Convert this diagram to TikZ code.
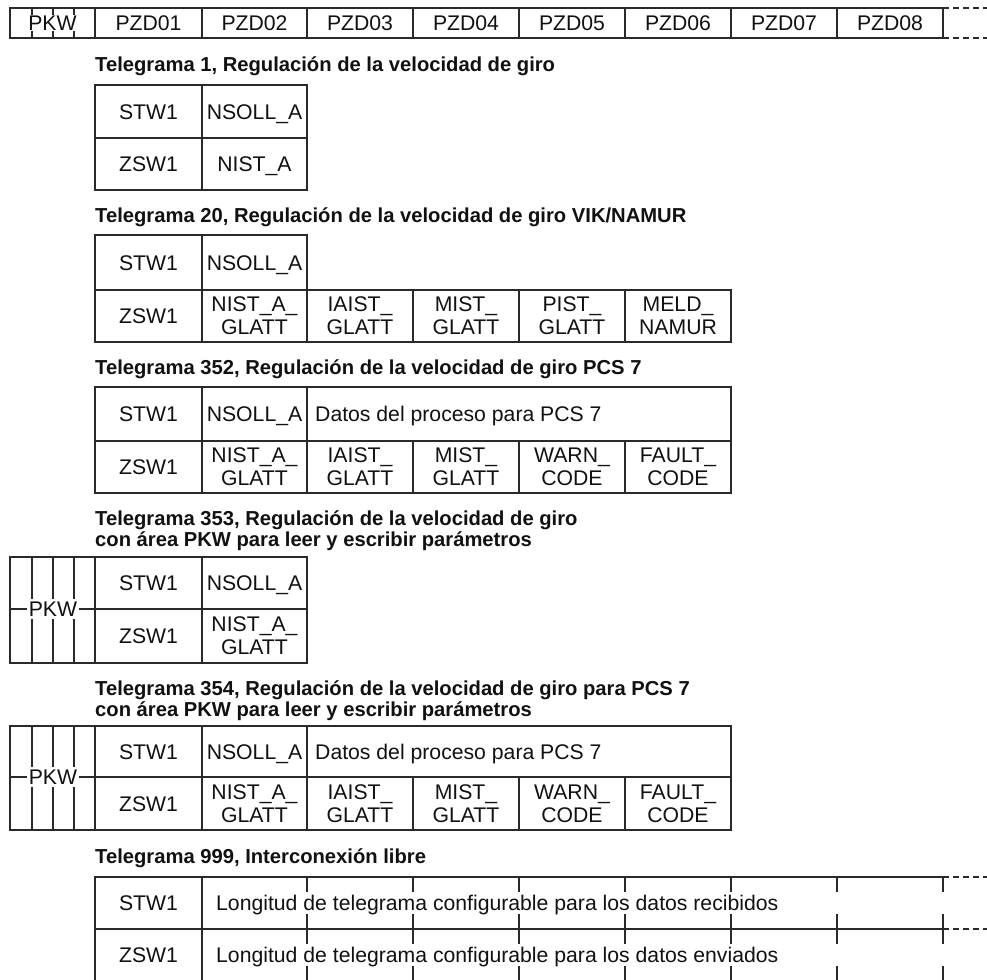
\documentclass[tikz,border=0pt]{standalone}
\usepackage{fontspec}
\setmainfont{Liberation Sans}
\definecolor{linec}{HTML}{2A2A2A}
\definecolor{txt}{HTML}{111111}
\newcommand\cellfont{\fontsize{21.2}{23}\selectfont}
\newcommand\titlefont{\fontsize{20.2}{21}\selectfont\bfseries}
\tikzset{
  cellbase/.style={draw=linec, line width=1.6pt, inner sep=0pt, outer sep=0pt, font=\cellfont, text=txt, align=center},
  cellone/.style={cellbase, text height=15.2pt, text depth=0pt},
  celltwo/.style={cellbase},
  titletxt/.style={anchor=base west, inner sep=0pt, font=\titlefont, text=txt},
  lbl/.style={anchor=west, inner sep=0pt, font=\cellfont, text=txt, text height=15.2pt, text depth=0pt},
  pkwlbl/.style={inner xsep=2pt, inner ysep=1pt, font=\cellfont, text=txt, text height=15.2pt, text depth=0pt},
  rule/.style={draw=linec, line width=1.6pt},
  dashrule/.style={draw=linec, line width=1.6pt, dash pattern=on 6pt off 4pt},
}
\newcommand\mycell[6]{\node[cellone, minimum width={(#4-#2)*1pt}, minimum height={(#5-#3)*1pt}] (#1) at ({(#2+#4)/2},{(#3+#5)/2}) {#6};}
\newcommand\mycellb[6]{\node[celltwo, minimum width={(#4-#2)*1pt}, minimum height={(#5-#3)*1pt}] (#1) at ({(#2+#4)/2},{(#3+#5)/2}) {#6};}
\begin{document}
\begin{tikzpicture}[x=1pt,y=-1pt]
\useasboundingbox (0,0) rectangle (987,979);
\fill[white] (0,0) rectangle (987,979);

% ---------- header row ----------
\mycell{h0}{10}{8}{95}{38}{PKW}
\mycell{h1}{95}{8}{202}{38}{PZD01}
\mycell{h2}{202}{8}{307}{38}{PZD02}
\mycell{h3}{307}{8}{413}{38}{PZD03}
\mycell{h4}{413}{8}{519}{38}{PZD04}
\mycell{h5}{519}{8}{625}{38}{PZD05}
\mycell{h6}{625}{8}{731}{38}{PZD06}
\mycell{h7}{731}{8}{837}{38}{PZD07}
\mycell{h8}{837}{8}{943}{38}{PZD08}
\foreach \x in {32,53,74} {
  \draw[rule] (\x,8) -- (\x,15);
  \draw[rule] (\x,31) -- (\x,38);
}
\coordinate (hEndT) at (987,8);
\coordinate (hEndB) at (987,38);
\draw[dashrule] (h8.north east) -- (hEndT);
\draw[dashrule] (h8.south east) -- (hEndB);

% ---------- Telegrama 1 ----------
\node[titletxt] (t1) at (95,72) {Telegrama 1, Regulación de la velocidad de giro};
\mycell{a1}{95}{85}{202}{138}{STW1}
\mycell{a2}{202}{85}{307}{138}{NSOLL\_A}
\mycell{a3}{95}{138}{202}{190}{ZSW1}
\mycell{a4}{202}{138}{307}{190}{NIST\_A}

% ---------- Telegrama 20 ----------
\node[titletxt] (t20) at (95,222) {Telegrama 20, Regulación de la velocidad de giro VIK/NAMUR};
\mycell{b1}{95}{235}{202}{290}{STW1}
\mycell{b2}{202}{235}{307}{290}{NSOLL\_A}
\mycell{b3}{95}{290}{202}{342}{ZSW1}
\mycellb{b4}{202}{290}{307}{342}{NIST\_A\_\\GLATT}
\mycellb{b5}{307}{290}{413}{342}{IAIST\_\\GLATT}
\mycellb{b6}{413}{290}{519}{342}{MIST\_\\GLATT}
\mycellb{b7}{519}{290}{625}{342}{PIST\_\\GLATT}
\mycellb{b8}{625}{290}{731}{342}{MELD\_\\NAMUR}

% ---------- Telegrama 352 ----------
\node[titletxt] (t352) at (95,374) {Telegrama 352, Regulación de la velocidad de giro PCS 7};
\mycell{c1}{95}{387}{202}{441}{STW1}
\mycell{c2}{202}{387}{307}{441}{NSOLL\_A}
\mycell{c3}{307}{387}{731}{441}{}
\node[lbl] (c3t) at (315,414) {Datos del proceso para PCS 7};
\mycell{c4}{95}{441}{202}{493}{ZSW1}
\mycellb{c5}{202}{441}{307}{493}{NIST\_A\_\\GLATT}
\mycellb{c6}{307}{441}{413}{493}{IAIST\_\\GLATT}
\mycellb{c7}{413}{441}{519}{493}{MIST\_\\GLATT}
\mycellb{c8}{519}{441}{625}{493}{WARN\_\\CODE}
\mycellb{c9}{625}{441}{731}{493}{FAULT\_\\CODE}

% ---------- Telegrama 353 ----------
\node[titletxt] (t353a) at (95,525) {Telegrama 353, Regulación de la velocidad de giro};
\node[titletxt] (t353b) at (95,546) {con área PKW para leer y escribir parámetros};
\mycell{d1}{95}{557}{202}{609}{STW1}
\mycell{d2}{202}{557}{307}{609}{NSOLL\_A}
\mycell{d3}{95}{609}{202}{663}{ZSW1}
\mycellb{d4}{202}{609}{307}{663}{NIST\_A\_\\GLATT}
\draw[rule] (d1.north west) -- (10,557) -- (10,663) -- (d3.south west);
\node[pkwlbl] (dp) at (53,609) {PKW};
\draw[rule] (10,609) -- (dp.west);
\draw[rule] (dp.east) -- (d3.north west);
\foreach \x in {32,53,74} {
  \draw[rule] (\x,557) -- (\x,599);
  \draw[rule] (\x,619) -- (\x,663);
}

% ---------- Telegrama 354 ----------
\node[titletxt] (t354a) at (95,695) {Telegrama 354, Regulación de la velocidad de giro para PCS 7};
\node[titletxt] (t354b) at (95,716) {con área PKW para leer y escribir parámetros};
\mycell{e1}{95}{726}{202}{777}{STW1}
\mycell{e2}{202}{726}{307}{777}{NSOLL\_A}
\mycell{e3}{307}{726}{731}{777}{}
\node[lbl] (e3t) at (315,751.5) {Datos del proceso para PCS 7};
\mycell{e4}{95}{777}{202}{830}{ZSW1}
\mycellb{e5}{202}{777}{307}{830}{NIST\_A\_\\GLATT}
\mycellb{e6}{307}{777}{413}{830}{IAIST\_\\GLATT}
\mycellb{e7}{413}{777}{519}{830}{MIST\_\\GLATT}
\mycellb{e8}{519}{777}{625}{830}{WARN\_\\CODE}
\mycellb{e9}{625}{777}{731}{830}{FAULT\_\\CODE}
\draw[rule] (e1.north west) -- (10,726) -- (10,830) -- (e4.south west);
\node[pkwlbl] (ep) at (53,777) {PKW};
\draw[rule] (10,777) -- (ep.west);
\draw[rule] (ep.east) -- (e4.north west);
\foreach \x in {32,53,74} {
  \draw[rule] (\x,726) -- (\x,767);
  \draw[rule] (\x,787) -- (\x,830);
}

% ---------- Telegrama 999 ----------
\node[titletxt] (t999) at (95,863) {Telegrama 999, Interconexión libre};
\mycell{f1}{95}{877}{202}{929}{STW1}
\mycell{f2}{95}{929}{202}{981}{ZSW1}
\node[lbl] (f1t) at (216,903) {Longitud de telegrama configurable para los datos recibidos};
\node[lbl] (f2t) at (216,955) {Longitud de telegrama configurable para los datos enviados};
\coordinate (fEndT) at (943,877);
\coordinate (fEndM) at (943,929);
\coordinate (fDashT) at (987,877);
\coordinate (fDashM) at (987,929);
\draw[rule] (f1.north east) -- (fEndT);
\draw[rule] (f1.south east) -- (fEndM);
\draw[dashrule] (fEndT) -- (fDashT);
\draw[dashrule] (fEndM) -- (fDashM);
\foreach \x in {307,413,519,625,731,837,943} {
  \draw[rule] (\x,877) -- (\x,892);
  \draw[rule] (\x,914) -- (\x,944);
  \draw[rule] (\x,966) -- (\x,985);
}
\end{tikzpicture}
\end{document}
